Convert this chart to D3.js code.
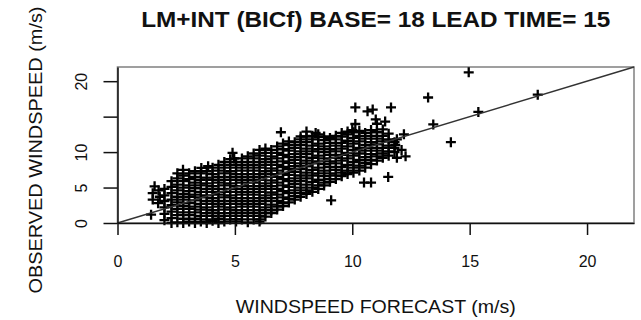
<!DOCTYPE html>
<html>
<head>
<meta charset="utf-8">
<script src="https://cdn.jsdelivr.net/npm/d3@7"></script>
<style>
  body { margin: 0; background: #fff; }
  text { font-family: 'Liberation Sans', Arial, Helvetica, sans-serif; fill: #111; }
</style>
</head>
<body>
<div id="wrapper"></div>
<script>
// Data
const titleText = 'LM+INT (BICf) BASE= 18 LEAD TIME= 15';
const xLabelText = 'WINDSPEED FORECAST (m/s)';
const yLabelText = 'OBSERVED WINDSPEED (m/s)';

const xTicks = [0, 5, 10, 15, 20];
const xTickLabels = ['0', '5', '10', '15', '20'];
const yTicks = [0, 5, 10, 15, 20];
const yTickLabels = ['0', '5', '10', '', '20'];
const axisDomain = [0, 22];
const refLine = [[0, 0], [22, 22]];

// scattered points outside / at the rim of the main cloud [forecast, observed]
const outliers = [
  [14.96, 21.25], [13.23, 17.7], [17.9, 18.1], [15.37, 15.66], [13.45, 13.9],
  [14.2, 11.4], [10.13, 16.3], [10.65, 15.75], [10.87, 16.0], [11.65, 16.3],
  [10.13, 13.96], [11.0, 14.6], [11.4, 14.3], [12.2, 12.5], [11.9, 11.8],
  [11.83, 11.0], [12.27, 9.4], [11.9, 9.2], [12.1, 10.3], [11.53, 6.5],
  [10.5, 5.7], [10.8, 5.7], [9.1, 3.2], [6.96, 12.8], [8.44, 12.7],
  [4.9, 9.9], [4.97, 9.1], [2.79, 7.5], [3.57, 7.76], [3.86, 8.0],
  [1.58, 5.17], [1.5, 4.2], [1.5, 3.3], [1.73, 2.8], [1.43, 1.18],
  [1.8, 3.7], [1.75, 4.6], [5.04, 0.56], [6.08, 0.5], [10.0, 13.1]
];

// dense cloud, by forecast column: [forecast, [observed values]]
const cloud = [
  [2.0, [0.4, 1.3, 2.2, 3.1, 3.9, 4.8]],
  [2.3, [0.0, 0.7, 1.6, 2.5, 3.3, 4.2, 5.1, 5.9]],
  [2.55, [0.1, 1.1, 2.0, 2.9, 3.7, 4.6, 5.4, 6.3, 7.0]],
  [2.8, [0.0, 0.6, 1.5, 2.4, 3.3, 4.1, 5.0, 5.9, 6.7]],
  [3.05, [0.2, 1.1, 2.0, 2.8, 3.7, 4.5, 5.3, 6.2, 7.0]],
  [3.3, [0.0, 0.6, 1.5, 2.3, 3.2, 4.0, 4.9, 5.7, 6.5, 7.3]],
  [3.55, [0.2, 1.0, 1.9, 2.7, 3.6, 4.4, 5.3, 6.1, 7.0]],
  [3.8, [0.0, 0.5, 1.4, 2.2, 3.1, 3.9, 4.8, 5.6, 6.4, 7.3]],
  [4.05, [0.3, 1.0, 1.8, 2.7, 3.5, 4.4, 5.2, 6.1, 6.9, 7.8]],
  [4.3, [0.0, 0.6, 1.4, 2.3, 3.1, 4.0, 4.8, 5.7, 6.5, 7.4, 8.2]],
  [4.55, [0.2, 1.0, 1.9, 2.7, 3.6, 4.4, 5.3, 6.1, 7.0, 7.8, 8.6]],
  [4.8, [0.5, 1.4, 2.2, 3.1, 3.9, 4.8, 5.6, 6.5, 7.3, 8.2, 9.0]],
  [5.05, [0.2, 1.0, 1.8, 2.7, 3.5, 4.4, 5.2, 6.1, 6.9, 7.8, 8.6]],
  [5.3, [0.5, 1.4, 2.3, 3.1, 4.0, 4.8, 5.7, 6.5, 7.4, 8.2, 9.1]],
  [5.55, [0.1, 1.0, 1.8, 2.7, 3.5, 4.4, 5.2, 6.1, 6.9, 7.8, 8.6, 9.4]],
  [5.8, [0.5, 1.4, 2.3, 3.1, 4.0, 4.8, 5.7, 6.5, 7.4, 8.2, 9.1, 9.8]],
  [6.05, [0.2, 1.0, 1.8, 2.7, 3.5, 4.4, 5.2, 6.1, 6.9, 7.8, 8.6, 9.5, 10.3]],
  [6.3, [0.9, 1.4, 2.2, 3.1, 3.9, 4.8, 5.6, 6.5, 7.3, 8.2, 9.0, 9.9, 10.5]],
  [6.55, [1.4, 1.8, 2.6, 3.5, 4.3, 5.2, 6.0, 6.9, 7.7, 8.6, 9.4, 10.3]],
  [6.8, [1.9, 2.3, 3.1, 4.0, 4.8, 5.7, 6.5, 7.4, 8.2, 9.1, 9.9, 10.8]],
  [7.05, [2.4, 2.8, 3.6, 4.5, 5.3, 6.2, 7.0, 7.9, 8.7, 9.6, 10.4, 11.2]],
  [7.3, [2.9, 3.4, 4.2, 5.1, 5.9, 6.8, 7.6, 8.5, 9.3, 10.2, 11.0, 11.5]],
  [7.55, [3.3, 3.8, 4.6, 5.5, 6.3, 7.2, 8.0, 8.9, 9.7, 10.6, 11.4]],
  [7.8, [3.7, 4.2, 5.0, 5.9, 6.7, 7.6, 8.4, 9.3, 10.1, 11.0, 11.8, 12.2]],
  [8.05, [4.1, 4.6, 5.4, 6.3, 7.1, 8.0, 8.8, 9.7, 10.5, 11.4, 12.2, 12.9]],
  [8.3, [4.4, 5.0, 5.8, 6.7, 7.5, 8.4, 9.2, 10.1, 10.9, 11.8, 12.3]],
  [8.55, [4.8, 5.3, 6.1, 7.0, 7.8, 8.7, 9.5, 10.4, 11.2, 12.1, 12.5]],
  [8.8, [5.3, 5.7, 6.6, 7.4, 8.3, 9.1, 10.0, 10.8, 11.7, 12.2]],
  [9.05, [5.8, 6.2, 7.0, 7.9, 8.7, 9.6, 10.4, 11.3, 12.0]],
  [9.3, [6.2, 6.7, 7.5, 8.4, 9.2, 10.1, 10.9, 11.8, 12.3]],
  [9.55, [6.6, 7.1, 7.9, 8.8, 9.6, 10.5, 11.3, 12.2, 12.7]],
  [9.8, [6.9, 7.4, 8.2, 9.1, 9.9, 10.8, 11.6, 12.5, 12.9]],
  [10.05, [7.1, 7.8, 8.6, 9.5, 10.3, 11.2, 12.0, 12.8]],
  [10.3, [7.4, 8.1, 8.9, 9.8, 10.6, 11.5, 12.3, 13.0]],
  [10.55, [7.8, 8.5, 9.3, 10.2, 11.0, 11.9, 12.7]],
  [10.8, [8.3, 8.9, 9.7, 10.6, 11.4, 12.3, 13.1]],
  [11.05, [8.8, 9.4, 10.2, 11.1, 11.9, 12.8, 14.0]],
  [11.3, [9.2, 9.8, 10.6, 11.5, 12.3, 13.2]],
  [11.55, [9.5, 10.1, 10.9, 11.8, 12.6]],
  [11.8, [10.0, 10.6, 11.4]]
];

function drawChart() {
  const points = outliers.concat(
    cloud.flatMap(([f, obs]) => obs.map((o) => [f, o]))
  );
  const xAccessor = (d) => d[0];
  const yAccessor = (d) => d[1];

  let dimensions = {
    width: 641,
    height: 320,
    margin: { top: 67, right: 7, bottom: 97, left: 117.5 },
  };
  dimensions.boundedWidth =
    dimensions.width - dimensions.margin.left - dimensions.margin.right;
  dimensions.boundedHeight =
    dimensions.height - dimensions.margin.top - dimensions.margin.bottom;

  // Scales
  const xScale = d3.scaleLinear().domain(axisDomain).range([0, dimensions.boundedWidth]);
  const yScale = d3.scaleLinear().domain(axisDomain).range([dimensions.boundedHeight, 0]);

  const wrapper = d3
    .select('#wrapper')
    .append('svg')
    .attr('width', dimensions.width)
    .attr('height', dimensions.height);

  const bounds = wrapper
    .append('g')
    .attr('transform', `translate(${dimensions.margin.left}, ${dimensions.margin.top})`);

  // Box
  bounds
    .append('rect')
    .attr('width', dimensions.boundedWidth)
    .attr('height', dimensions.boundedHeight)
    .attr('fill', 'none')
    .attr('stroke', '#888')
    .attr('stroke-width', 1.6);

  // Points
  bounds
    .append('g')
    .selectAll('path')
    .data(points)
    .enter()
    .append('path')
    .attr('transform', (d) => `translate(${xScale(xAccessor(d))}, ${yScale(yAccessor(d))})`)
    .attr('d', 'M-5,0H5M0,-5V5')
    .attr('stroke', '#000')
    .attr('stroke-width', 2.3)
    .attr('fill', 'none');

  // 1:1 line
  bounds
    .append('path')
    .datum(refLine)
    .attr('d', d3.line().x((d) => xScale(d[0])).y((d) => yScale(d[1])))
    .attr('stroke', '#333')
    .attr('stroke-width', 1.5)
    .attr('fill', 'none');

  // Axes
  const xAxis = d3
    .axisBottom(xScale)
    .tickValues(xTicks)
    .tickFormat((d, i) => xTickLabels[i])
    .tickSizeInner(12)
    .tickSizeOuter(0)
    .tickPadding(21);
  const xAxisGroup = bounds
    .append('g')
    .attr('transform', `translate(0, ${dimensions.boundedHeight})`)
    .call(xAxis);
  xAxisGroup.selectAll('text').style('font-size', '16px');

  const yAxis = d3
    .axisLeft(yScale)
    .tickValues(yTicks)
    .tickFormat((d, i) => yTickLabels[i])
    .tickSizeInner(14)
    .tickSizeOuter(0);
  const yAxisGroup = bounds.append('g').call(yAxis);
  yAxisGroup
    .selectAll('text')
    .attr('x', 0)
    .attr('dy', 0)
    .attr('text-anchor', 'middle')
    .attr('transform', 'translate(-31, 0) rotate(-90)')
    .style('font-size', '16px');

  [xAxisGroup, yAxisGroup].forEach((g) => {
    g.selectAll('.domain, line').attr('stroke', '#111').attr('stroke-width', 1.5);
    g.selectAll('text').attr('fill', '#111').style('font-family', "'Liberation Sans', Arial, sans-serif");
  });

  // Title and axis labels
  wrapper
    .append('text')
    .attr('x', dimensions.margin.left + dimensions.boundedWidth / 2)
    .attr('y', 27)
    .attr('text-anchor', 'middle')
    .attr('textLength', 469)
    .attr('lengthAdjust', 'spacingAndGlyphs')
    .style('font-size', '22px')
    .style('font-weight', 'bold')
    .text(titleText);

  wrapper
    .append('text')
    .attr('x', dimensions.margin.left + dimensions.boundedWidth / 2)
    .attr('y', 313)
    .attr('text-anchor', 'middle')
    .attr('textLength', 280)
    .attr('lengthAdjust', 'spacingAndGlyphs')
    .style('font-size', '18.5px')
    .text(xLabelText);

  wrapper
    .append('text')
    .attr('transform', 'translate(42, 150) rotate(-90)')
    .attr('text-anchor', 'middle')
    .attr('textLength', 287)
    .attr('lengthAdjust', 'spacingAndGlyphs')
    .style('font-size', '18.5px')
    .text(yLabelText);
}

drawChart();
</script>
</body>
</html>
